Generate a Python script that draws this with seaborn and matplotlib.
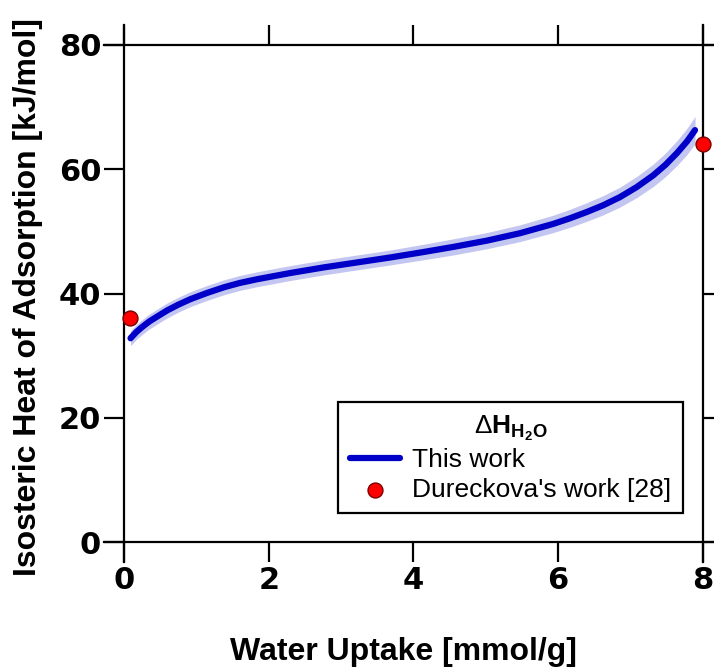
import matplotlib
matplotlib.use("Agg")
import matplotlib.pyplot as plt
import seaborn as sns
import numpy as np
import pandas as pd

# ---- data ----
uptake = [0.09, 0.17, 0.25, 0.35, 0.46, 0.60, 0.75, 0.92, 1.15, 1.38, 1.60,
          1.84, 2.07, 2.30, 2.76, 3.22, 3.68, 4.15, 4.55, 5.01, 5.47, 5.93,
          6.16, 6.39, 6.62, 6.85, 7.08, 7.31, 7.48, 7.64, 7.78, 7.89]
heat = [32.8, 33.8, 34.6, 35.5, 36.3, 37.3, 38.2, 39.1, 40.1, 41.0, 41.7,
        42.3, 42.8, 43.3, 44.2, 45.0, 45.8, 46.7, 47.5, 48.5, 49.7, 51.2,
        52.1, 53.1, 54.2, 55.5, 57.1, 59.0, 60.7, 62.6, 64.5, 66.3]
band_half = [1.2, 1.2, 1.2, 1.2, 1.2, 1.2, 1.2, 1.2, 1.2, 1.2, 1.2,
             1.2, 1.2, 1.2, 1.2, 1.2, 1.2, 1.25, 1.3, 1.3, 1.35, 1.4,
             1.45, 1.5, 1.55, 1.6, 1.7, 1.8, 1.9, 2.0, 2.1, 2.2]
ref_uptake = [0.08, 8.0]
ref_heat = [36.0, 64.0]

xticks = [0, 2, 4, 6, 8]
yticks = [0, 20, 40, 60, 80]

sns.set_style("ticks")
plt.rcParams['font.family'] = ['Liberation Sans', 'DejaVu Sans']
plt.rcParams['mathtext.fontset'] = 'custom'
plt.rcParams['mathtext.rm'] = 'Liberation Sans'
plt.rcParams['mathtext.bf'] = 'Liberation Sans:bold'
plt.rcParams['mathtext.it'] = 'Liberation Sans:italic'
for k in ['text.color', 'axes.labelcolor', 'xtick.color', 'ytick.color',
          'axes.edgecolor']:
    plt.rcParams[k] = 'black'

W, H = 714, 667
fig = plt.figure(figsize=(W / 100, H / 100), dpi=100)
# axes box in pixels: left 104, right 723, top 25, bottom 562
ax = fig.add_axes([104 / W, (H - 562) / H, (723 - 104) / W, (562 - 25) / H])

dx = 20 / 72.375
dy = 20 / 6.2125
ax.set_xlim(-dx, 8 + dx)
ax.set_ylim(-dy, 80 + dy)

line_df = pd.DataFrame({"uptake": uptake, "heat": heat, "half": band_half})
line_df["lo"] = line_df["heat"] - line_df["half"]
line_df["hi"] = line_df["heat"] + line_df["half"]
ref_df = pd.DataFrame({"uptake": ref_uptake, "heat": ref_heat})

ax.fill_between(line_df["uptake"], line_df["lo"], line_df["hi"],
                color="#c3c6f0", lw=0, zorder=2)
sns.lineplot(data=line_df, x="uptake", y="heat", ax=ax, color="#0000c8",
             lw=4.5, label="This work", zorder=3)
sns.scatterplot(data=ref_df, x="uptake", y="heat", ax=ax, color="#ff0000",
                edgecolor="#7a0000", linewidth=1.0, s=115,
                label="Dureckova's work [28]", zorder=6, clip_on=False)

for side in ["left", "right", "top", "bottom"]:
    ax.spines[side].set_visible(True)
    ax.spines[side].set_linewidth(1.6)
    ax.spines[side].set_color("black")
ax.spines["left"].set_position(("data", 0))
ax.spines["right"].set_position(("data", 8))
ax.spines["bottom"].set_position(("data", 0))
ax.spines["top"].set_position(("data", 80))

ax.set_xticks(xticks)
ax.set_yticks(yticks)
ax.set_xticklabels([str(t) for t in xticks])
ax.set_yticklabels([str(t) for t in yticks])
ax.tick_params(which="both", direction="out", length=14.4, width=1.6,
               top=True, right=True, labeltop=False, labelright=False,
               colors="black")
ax.tick_params(axis="y", pad=2)
ax.tick_params(axis="x", pad=3)
for lab in ax.get_xticklabels() + ax.get_yticklabels():
    lab.set_fontweight("bold")
    lab.set_fontsize(22)
    lab.set_family(['DejaVu Sans'])

ax.set_xlabel("")
ax.set_ylabel("")
fig.text(403 / W, 1 - 652 / H, "Water Uptake [mmol/g]", ha="center", va="center",
         fontsize=23, fontweight="bold")
fig.text(28 / W, 1 - 297 / H, "Isosteric Heat of Adsorption [kJ/mol]", ha="center",
         va="center", rotation=90, fontsize=23, fontweight="bold")

leg = ax.legend(loc="upper left", bbox_to_anchor=(338 / W, 1 - 402 / H),
                bbox_transform=fig.transFigure, borderaxespad=0,
                title=r"$\Delta\mathbf{H}_{\mathbf{H_2O}}$",
                fontsize=19, title_fontsize=19, frameon=True, fancybox=False,
                handlelength=1.9, handletextpad=0.45, borderpad=0.45,
                labelspacing=0.2, markerscale=1.0)
leg.get_frame().set_edgecolor("black")
leg.get_frame().set_linewidth(1.6)
leg.get_frame().set_alpha(1)

fig.savefig("out.png", dpi=100)
